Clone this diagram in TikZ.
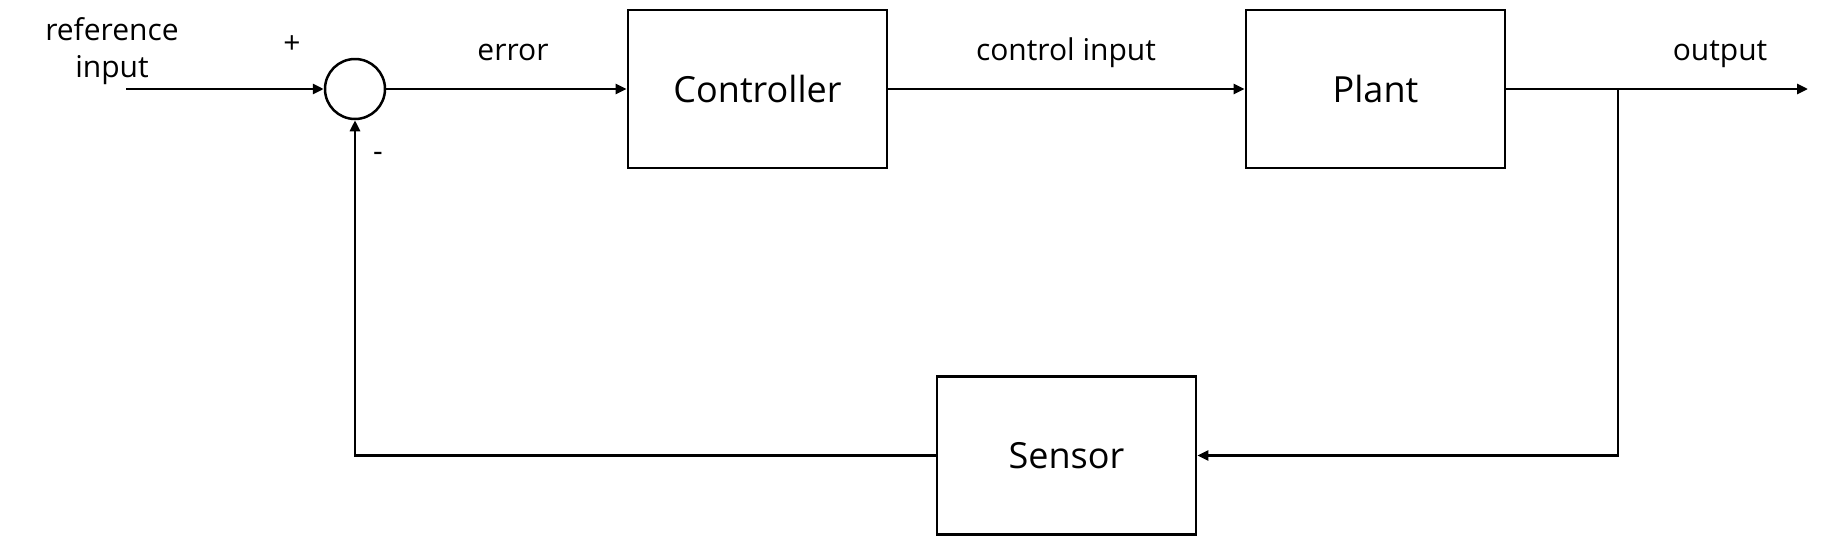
\documentclass[tikz,border=0pt]{standalone}
\usepackage{fontspec}
\setmainfont{Open Sans}
\usetikzlibrary{arrows.meta}
\begin{document}
\begin{tikzpicture}[x=1pt,y=-1pt,
  blk/.style={draw,line width=2.8pt,minimum width=259pt,minimum height=158pt,inner sep=0pt,font=\fontsize{36}{40}\selectfont},
  lbl/.style={font=\fontsize{30}{37}\selectfont,inner sep=0pt},
  sumnode/.style={draw,circle,line width=2.5pt,minimum size=60pt,inner sep=0pt},
  conn/.style={line width=2.8pt,-{Triangle[length=11pt,width=10pt]}}]
\useasboundingbox (0,0) rectangle (1834,536);
\node[sumnode] (sum) at (355,89) {};
\node[blk] (ctrl) at (757.5,89) {Controller};
\node[blk] (plant) at (1375.5,89) {Plant};
\node[blk] (sensor) at (1066.5,455.5) {Sensor};
\coordinate (in) at (126,89);
\coordinate (br) at (1618,89);
\coordinate (out) at (1808,89);
\node[lbl,align=center] (reflbl) at (112,51) {reference\\input};
\node[lbl] (plus) at (292,45) {+};
\node[lbl] (minus) at (378,157) {-};
\node[lbl,anchor=base] (errlbl) at (513,60) {error};
\node[lbl,anchor=base] (culbl) at (1066,60) {control input};
\node[lbl,anchor=base] (outlbl) at (1720,60) {output};
\draw[conn] (in) -- (sum.west);
\draw[conn] (sum.east) -- (ctrl.west);
\draw[conn] (ctrl.east) -- (plant.west);
\draw[conn] (plant.east) -- (out);
\draw[conn] (br) |- (sensor.east);
\draw[conn] (sensor.west) -| (sum.south);
\end{tikzpicture}
\end{document}
